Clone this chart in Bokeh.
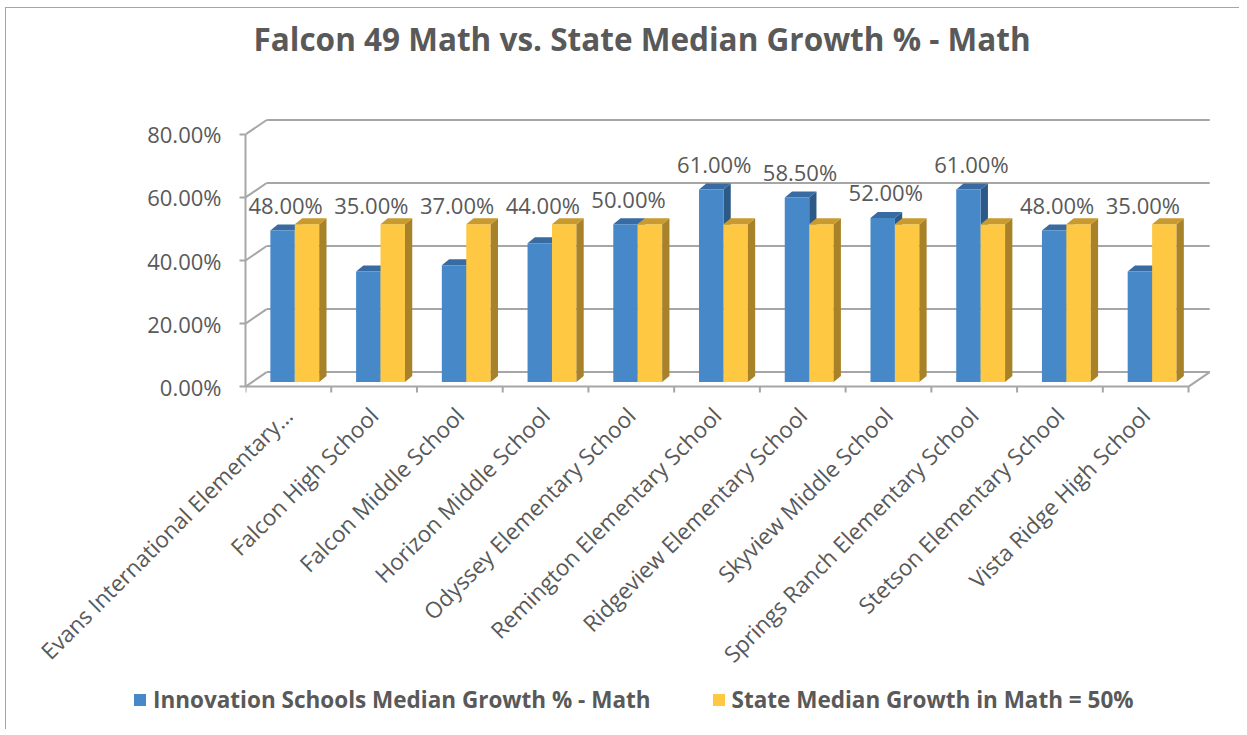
from math import pi
from bokeh.plotting import figure
from bokeh.layouts import column
from bokeh.models import Range1d, FixedTicker, PrintfTickFormatter, Legend, LegendItem
from bokeh.embed import file_html
from bokeh.resources import INLINE
from bokeh.core.properties import value

# ---------------- data ----------------
schools = [
    "Evans International Elementary…",
    "Falcon High School",
    "Falcon Middle School",
    "Horizon Middle School",
    "Odyssey Elementary School",
    "Remington Elementary School",
    "Ridgeview Elementary School",
    "Skyview Middle School",
    "Springs Ranch Elementary School",
    "Stetson Elementary School",
    "Vista Ridge High School",
]
innovation = [48.0, 35.0, 37.0, 44.0, 50.0, 61.0, 58.5, 52.0, 61.0, 48.0, 35.0]
state = [50.0, 50.0, 50.0, 50.0, 50.0, 50.0, 50.0, 50.0, 50.0, 50.0, 50.0]
y_ticks = [0, 20, 40, 60, 80]
series_names = ["Innovation Schools Median Growth % - Math",
                "State Median Growth in Math = 50%"]
title_text = "Falcon 49 Math vs. State Median Growth % - Math"

# ---------------- style ----------------
TXT = "#595959"
GRID = "#A6A6A6"
FONT = "Open Sans"
BLUE_FRONT, BLUE_TOP, BLUE_SIDE = "#4788C8", "#386BA2", "#2C5985"
YEL_FRONT, YEL_TOP, YEL_SIDE = "#FEC843", "#C99A2F", "#A88229"

WX, WY = 0.247, 4.6        # depth of the back wall (x units, y units)
BASE = 1.5                 # bars stand mid-depth on the floor
BDX, BDY = 0.085, 1.9      # bar depth
BW = 0.285                 # bar width
B0 = -0.21                 # blue bar left, relative to category centre
LBL_DY = 8.1
TICK_DROP = 1.9

n = len(schools)
W = 1233

p = figure(width=W, height=675,
           x_range=Range1d(-0.5, 10.826), y_range=Range1d(-2.5, 101.875),
           output_backend="svg", toolbar_location=None,
           min_border_left=239, min_border_right=23,
           min_border_top=56, min_border_bottom=285,
           outline_line_color=None)
p.xgrid.grid_line_color = None
p.ygrid.grid_line_color = None

p.title.text = title_text
p.title.align = "left"
p.title.offset = 8
p.title.standoff = 12
p.title.text_font = FONT
p.title.text_font_size = "31.5px"
p.title.text_font_style = "bold"
p.title.text_color = TXT

# ---------------- walls / floor ----------------
left_end = -0.5
right_end = left_end + n
gx0, gy0, gx1, gy1 = [], [], [], []
for g in y_ticks:
    gx0.append(left_end + WX); gy0.append(g + WY)
    gx1.append(right_end + WX); gy1.append(g + WY)
    gx0.append(left_end); gy0.append(g)
    gx1.append(left_end + WX); gy1.append(g + WY)
gx0 += [left_end, right_end]; gy0 += [0, 0]
gx1 += [right_end, right_end + WX]; gy1 += [0, WY]
for k in range(n + 1):
    gx0.append(left_end + k); gy0.append(0)
    gx1.append(left_end + k); gy1.append(-TICK_DROP)
p.segment(gx0, gy0, gx1, gy1, line_color=GRID, line_width=2)

# ---------------- 3D bars ----------------
def faces(lefts, vals):
    tops_x, tops_y, side_x, side_y = [], [], [], []
    for l, v in zip(lefts, vals):
        r = l + BW
        t = BASE + v
        tops_x.append([l, r, r + BDX, l + BDX])
        tops_y.append([t, t, t + BDY, t + BDY])
        side_x.append([r, r, r + BDX, r + BDX])
        side_y.append([BASE, t, t + BDY, BASE + BDY])
    return tops_x, tops_y, side_x, side_y

blue_l = [i + B0 for i in range(n)]
yel_l = [i + B0 + BW for i in range(n)]
btx, bty, bsx, bsy = faces(blue_l, innovation)
ytx, yty, ysx, ysy = faces(yel_l, state)

p.patches(bsx, bsy, fill_color=BLUE_SIDE, line_color=None)
p.patches(btx, bty, fill_color=BLUE_TOP, line_color=None)
p.quad(left=blue_l, right=[l + BW for l in blue_l],
       bottom=[BASE] * n, top=[BASE + v for v in innovation],
       fill_color=BLUE_FRONT, line_color=None)
p.quad(left=yel_l, right=[l + BW for l in yel_l],
       bottom=[BASE] * n, top=[BASE + v for v in state],
       fill_color=YEL_FRONT, line_color=None)
p.patches(ysx, ysy, fill_color=YEL_SIDE, line_color=None)
p.patches(ytx, yty, fill_color=YEL_TOP, line_color=None)

# ---------------- data labels ----------------
lbl_x = [i + B0 + BW / 2 + 0.035 for i in range(n)]
lbl_y = [max(a, b - 2) + BASE + LBL_DY for a, b in zip(innovation, state)]
lbl_t = ["%.2f%%" % v for v in innovation]
p.text(lbl_x, lbl_y, text=lbl_t, text_align="center", text_baseline="middle",
       text_font=value(FONT), text_font_size="22px", text_color=TXT)

# ---------------- axes ----------------
ya = p.yaxis[0]
ya.ticker = FixedTicker(ticks=y_ticks)
ya.formatter = PrintfTickFormatter(format="%.2f%%")
ya.bounds = (y_ticks[0], y_ticks[-1])
ya.axis_line_color = GRID
ya.axis_line_width = 2
ya.major_tick_line_color = GRID
ya.major_tick_line_width = 2
ya.major_tick_in = 0
ya.major_tick_out = 6
ya.minor_tick_line_color = None
ya.major_label_standoff = 18
ya.major_label_text_font = FONT
ya.major_label_text_font_size = "22px"
ya.major_label_text_color = TXT

xa = p.xaxis[0]
xa.ticker = FixedTicker(ticks=list(range(n)))
xa.major_label_overrides = {i: s for i, s in enumerate(schools)}
xa.major_label_orientation = pi / 4
xa.axis_line_color = None
xa.major_tick_line_color = None
xa.minor_tick_line_color = None
xa.major_label_standoff = 11
xa.major_label_text_font = FONT
xa.major_label_text_font_size = "22.5px"
xa.major_label_text_color = TXT

# ---------------- legend (separate strip below) ----------------
lg = figure(width=W, height=46, x_range=Range1d(0, 1), y_range=Range1d(0, 1),
            output_backend="svg", toolbar_location=None,
            min_border=0, outline_line_color=None)
lg.axis.visible = False
lg.grid.visible = False
try:
    lg.frame_align = False
    p.frame_align = False
    legend_x = 126
except AttributeError:
    legend_x = -113
r_blue = lg.quad(left=[2], right=[3], bottom=[2], top=[3],
                 fill_color=BLUE_FRONT, line_color=None)
r_yel = lg.quad(left=[2], right=[3], bottom=[2], top=[3],
                fill_color=YEL_FRONT, line_color=None)
legend = Legend(items=[LegendItem(label=series_names[0], renderers=[r_blue]),
                       LegendItem(label=series_names[1], renderers=[r_yel])],
                orientation="horizontal", location=(legend_x, 14),
                glyph_width=15, glyph_height=15, label_standoff=6, spacing=60,
                padding=0, margin=0, border_line_color=None,
                background_fill_alpha=0,
                label_text_font=FONT, label_text_font_size="22.5px",
                label_text_font_style="bold", label_text_color=TXT)
lg.add_layout(legend, "center")

layout = column(p, lg, styles={"border-left": "1px solid #A6A6A6",
                               "border-top": "1px solid #A6A6A6",
                               "margin-left": "5px", "margin-top": "7px"})
open("out.html", "w").write(file_html(layout, INLINE))
